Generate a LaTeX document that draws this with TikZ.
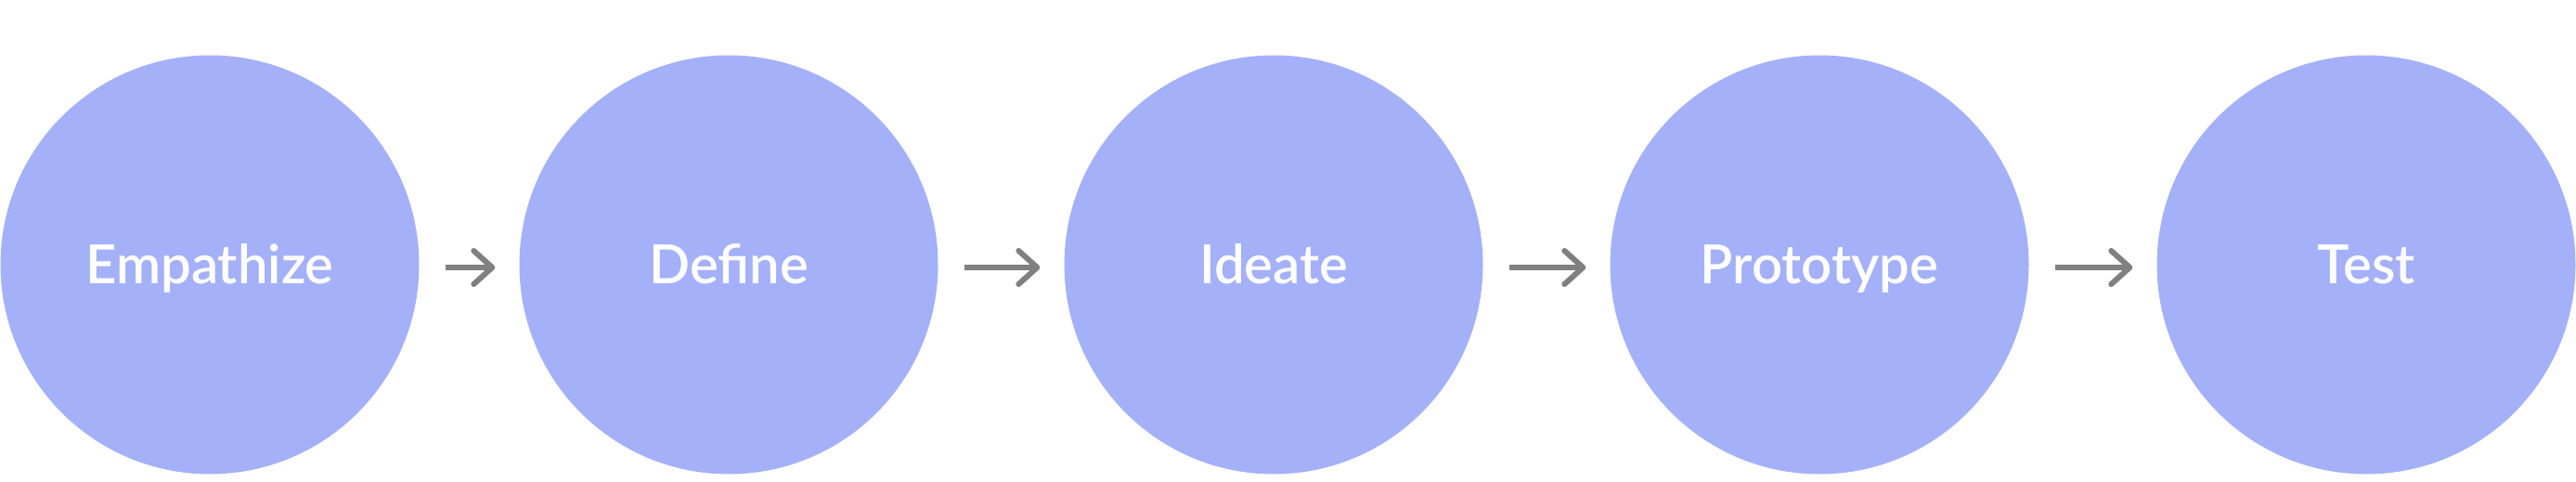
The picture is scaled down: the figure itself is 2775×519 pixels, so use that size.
\documentclass[tikz,border=0pt]{standalone}
\usepackage{fontspec}
\IfFontExistsTF{Lato Semibold}{\setmainfont{Lato Semibold}}{\IfFontExistsTF{Lato Medium}{\setmainfont{Lato Medium}}{\setmainfont{Lato Bold}}}
\usetikzlibrary{arrows.meta}
\definecolor{stagefill}{RGB}{164,177,248}
\definecolor{arrowgrey}{RGB}{128,128,128}
\begin{document}
\begin{tikzpicture}[x=1pt,y=-1pt,
  stage/.style={circle, fill=stagefill, draw=none, minimum size=451pt, inner sep=0pt},
  lbl/.style={text=white, anchor=base, inner sep=0pt, font=\fontsize{58}{60}\selectfont},
  flow/.style={draw=arrowgrey, line width=6pt,
    -{Straight Barb[length=20pt, width=36pt, line cap=round, line join=round]},
    shorten <=28pt, shorten >=26pt}]
\useasboundingbox (0,0) rectangle (2775,519);
\node[stage] (s1) at (226,285) {};
\node[stage] (s2) at (785,285) {};
\node[stage] (s3) at (1372,285) {};
\node[stage] (s4) at (1960,285) {};
\node[stage] (s5) at (2549,285) {};
\node[lbl] (t1) at ([yshift=-20pt]s1.center) {Empathize};
\node[lbl] (t2) at ([yshift=-20pt]s2.center) {Define};
\node[lbl] (t3) at ([yshift=-20pt]s3.center) {Ideate};
\node[lbl] (t4) at ([yshift=-20pt]s4.center) {Prototype};
\node[lbl] (t5) at ([yshift=-20pt]s5.center) {Test};
\draw[flow] ([yshift=-3pt]s1.east) -- ([yshift=-3pt]s2.west);
\draw[flow] ([yshift=-3pt]s2.east) -- ([yshift=-3pt]s3.west);
\draw[flow] ([yshift=-3pt]s3.east) -- ([yshift=-3pt]s4.west);
\draw[flow] ([yshift=-3pt]s4.east) -- ([yshift=-3pt]s5.west);
\end{tikzpicture}
\end{document}
